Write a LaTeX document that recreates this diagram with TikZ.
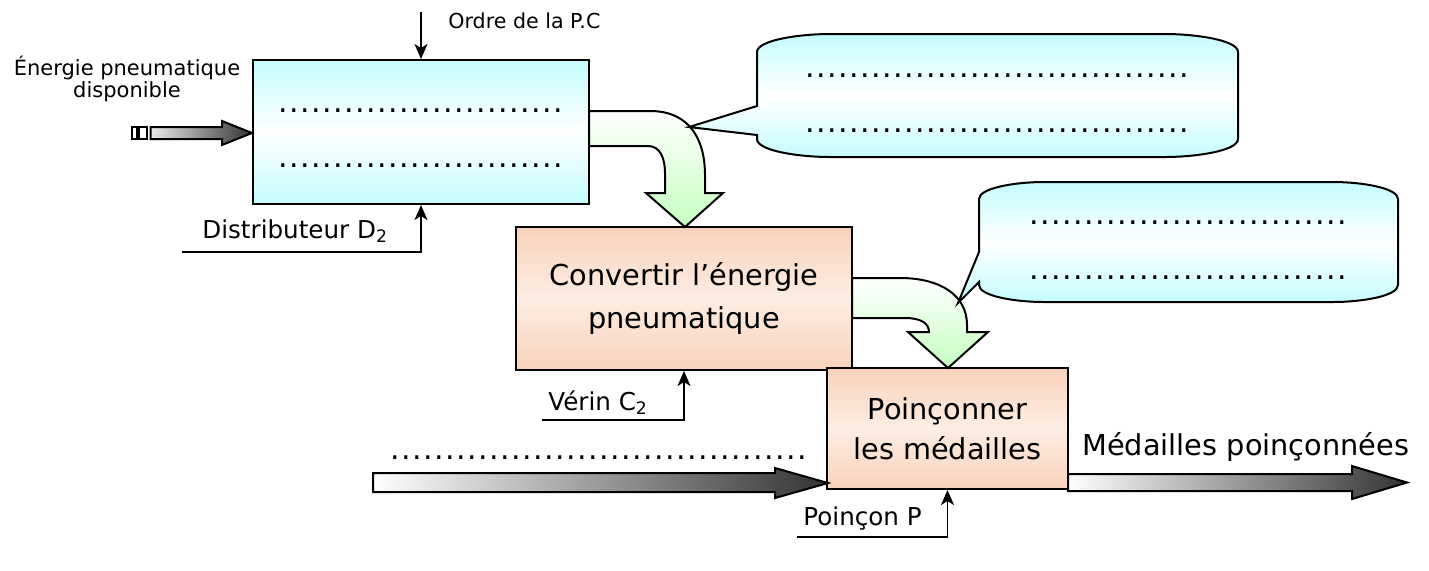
\documentclass[tikz,border=0pt]{standalone}
\usepackage{fontspec}
\setmainfont{DejaVu Sans}
\usetikzlibrary{arrows.meta}
\definecolor{bleuclair}{HTML}{C4FCFF}
\definecolor{pechea}{HTML}{FDEDE2}
\definecolor{pecheb}{HTML}{F8D2BB}
\definecolor{vertclair}{HTML}{C6FFC0}
\newcommand\pointilles[1]{\hbox to #1pt{\xleaders\hbox to 5.5pt{\hss.\hss}\hfill}}

\begin{document}
\begin{tikzpicture}[x=0.5pt,y=-0.5pt]
    \tikzstyle{bloc}=[draw,line width=1pt,inner sep=0pt]
    \tikzstyle{bleu}=[top color=bleuclair,bottom color=bleuclair,middle color=white]
    \tikzstyle{peche}=[top color=pecheb,bottom color=pecheb,middle color=pechea]
    \tikzstyle{vert}=[draw,line width=1pt,top color=white,bottom color=vertclair]
    \tikzstyle{grosse}=[draw,line width=1pt,left color=white,right color=black!80]
    \tikzstyle{fil}=[line width=0.8pt,-{Stealth[length=7.5pt,width=6.5pt,inset=2pt]}]
    \tikzstyle{etiq}=[anchor=base west,inner sep=0pt,font=\fontsize{12.3}{14}\selectfont]
    \tikzstyle{points}=[inner sep=0pt,font=\fontsize{15}{16}\selectfont]
    \useasboundingbox (0,0) rectangle (1429,570);

    % les trois blocs
    \node[bloc,bleu,minimum width=168pt,minimum height=72pt] (distrib) at (421,132) {};
    \node[bloc,peche,minimum width=168pt,minimum height=71.5pt,align=center,
          font=\fontsize{14.4}{21.5}\selectfont] (convertir) at (684,298.5)
          {Convertir l’énergie\\pneumatique};
    \node[bloc,peche,minimum width=120.5pt,minimum height=60.5pt,align=center,
          font=\fontsize{14.4}{20}\selectfont] (poinconner) at (947.5,428.5)
          {Poinçonner\\les médailles};
    \node[points] (d1) at (421,111) {\pointilles{143}};
    \node[points] (d2) at (421,166) {\pointilles{143}};

    % energie d'entree
    \node[align=center,inner sep=0pt,font=\fontsize{10.5}{11}\selectfont] (energie) at (127,78.5)
          {Énergie pneumatique\\disponible};
    \draw[line width=1pt,fill=white] (131.7,126.7) rectangle (137.3,139.3);
    \draw[line width=1pt,fill=white] (139,126.7) rectangle (147.3,139.3);
    \draw[line width=1pt,left color=black!8,right color=black!80]
      (150.7,127) -- (222,127) -- (222,121) -- (252,133) -- (222,145) -- (222,139) -- (150.7,139) -- cycle;

    % ordre et supports
    \coordinate (ordre) at (421,12);
    \node[anchor=base west,inner sep=0pt,font=\fontsize{10.3}{12}\selectfont] (ordretxt) at (448,28) {Ordre de la P.C};
    \draw[fil] (ordre) -- (distrib.north);
    \node[etiq] (distxt) at (202,238) {Distributeur D\textsubscript{2}};
    \coordinate (cD) at (182,252);
    \draw[fil] (cD) -| (distrib.south);
    \node[etiq] (vertxt) at (548,410) {Vérin C\textsubscript{2}};
    \coordinate (cV) at (542,420);
    \draw[fil] (cV) -| (convertir.south);
    \node[etiq] (poitxt) at (803,525) {Poinçon P};
    \coordinate (cP) at (797,537);
    \draw[fil] (cP) -| (poinconner.south);

    % fleches courbes
    \path[vert] (589,111) -- (650,111) .. controls (690,111) and (705,140) .. (705,175)
      -- (705,193) -- (723,193) -- (685,227) -- (646,193) -- (665,193) -- (665,173)
      .. controls (665,158) and (660,146) .. (648,146) -- (589,146) -- cycle;
    \path[vert] (852,278) -- (900,278) .. controls (940,278) and (967,295) .. (967,325)
      -- (967,332) -- (988,332) -- (948,368) -- (908,332) -- (929,332)
      .. controls (929,324) and (922,318) .. (905,318) -- (852,318) -- cycle;

    % bulles
    \path[draw,line width=1pt,bleu] (757,52) .. controls (757,40) and (800,34) .. (830,34)
      -- (1165,34) .. controls (1195,34) and (1238,40) .. (1238,52)
      -- (1238,139) .. controls (1238,151) and (1195,157) .. (1165,157)
      -- (830,157) .. controls (800,157) and (757,151) .. (757,139)
      -- (757,135) -- (689,127) -- (757,106) -- cycle;
    \node[points] (b1) at (997,76) {\pointilles{192.5}};
    \node[points] (b2) at (997,131) {\pointilles{192.5}};
    \path[draw,line width=1pt,bleu] (979,199) .. controls (979,188) and (1015,182) .. (1044,182)
      -- (1333,182) .. controls (1362,182) and (1398,188) .. (1398,199)
      -- (1398,285) .. controls (1398,296) and (1362,302) .. (1333,302)
      -- (1044,302) .. controls (1015,302) and (979,296) .. (979,285)
      -- (979,282) -- (958,303) -- (979,252) -- cycle;
    \node[points] (b3) at (1188.5,223) {\pointilles{159.5}};
    \node[points] (b4) at (1188.5,278) {\pointilles{159.5}};

    % matiere d'oeuvre
    \node[points] (d3) at (599,458) {\pointilles{209}};
    \path[grosse] (373,473) -- (775,473) -- (775,468) -- (828,483) -- (775,498) -- (775,492)
      -- (373,492) -- cycle;
    \node[anchor=base west,inner sep=0pt,font=\fontsize{14.4}{16}\selectfont] (sortie) at (1082,455)
      {Médailles poinçonnées};
    \path[grosse] (1068,474) -- (1352,474) -- (1352,466) -- (1407,482.5) -- (1352,499) -- (1352,491)
      -- (1068,491) -- cycle;
\end{tikzpicture}
\end{document}
